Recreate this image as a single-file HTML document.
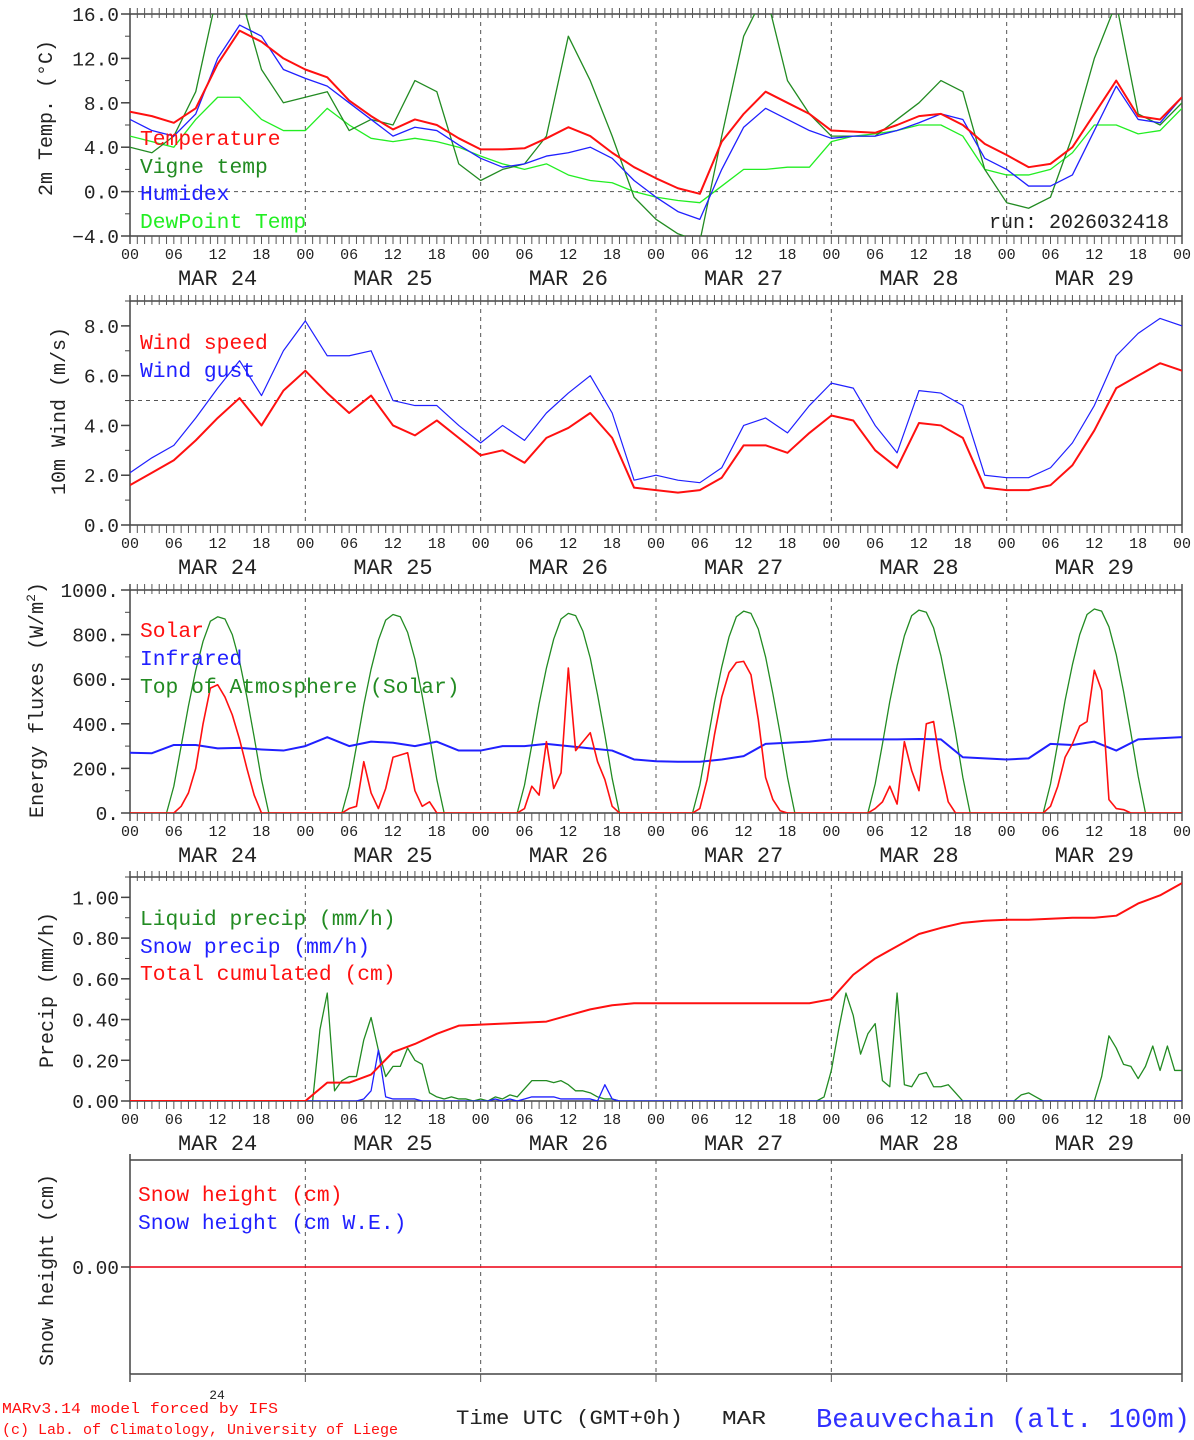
<!DOCTYPE html>
<html><head><meta charset="utf-8"><style>
body{margin:0;background:#fff;}
svg{display:block;font-family:"Liberation Mono",monospace;}
</style></head><body>
<svg id="c" width="1194" height="1440" viewBox="0 0 1194 1440" xmlns="http://www.w3.org/2000/svg"></svg>
<script>
// ---- data (3-hourly, t = 0..144 h) ----
const hours3 = [0,3,6,9,12,15,18,21,24,27,30,33,36,39,42,45,48,51,54,57,60,63,66,69,72,75,78,81,84,87,90,93,96,99,102,105,108,111,114,117,120,123,126,129,132,135,138,141,144];
const dayLabels = ["MAR 24","MAR 25","MAR 26","MAR 27","MAR 28","MAR 29"];
const hourTickLabels = ["00","06","12","18"];
const temperature = [7.2,6.8,6.2,7.5,11.5,14.5,13.5,12,11,10.3,8.2,6.8,5.6,6.5,6.0,4.8,3.8,3.8,3.9,4.8,5.8,5.0,3.5,2.2,1.2,0.3,-0.2,4.5,7.0,9.0,8.0,7.0,5.5,5.4,5.3,6.0,6.8,7.0,6.0,4.3,3.3,2.2,2.5,4.0,7.0,10.0,6.8,6.5,8.5];
const vigneTemp = [4.0,3.5,5.0,9.0,18,18,11,8,8.5,9,5.5,6.5,6,10,9,2.5,1.0,2.0,2.5,5,14,10,5,-0.5,-2.5,-3.8,-4.5,5,14,18,10,7,5,5,5,6.5,8,10,9,2,-1,-1.5,-0.5,5,12,17,7,6,8];
const humidex = [6.5,5.5,5,7,12,15,14,11,10.2,9.5,8,6.5,5.0,5.8,5.5,4.2,3.0,2.2,2.5,3.2,3.5,4.0,3.0,1.0,-0.5,-1.8,-2.5,2,5.8,7.5,6.5,5.5,4.8,5,5,5.5,6.2,7.0,6.5,3.0,2.0,0.5,0.5,1.5,5.5,9.5,6.5,6.2,8.5];
const dewPoint = [5,4.5,4.0,6.5,8.5,8.5,6.5,5.5,5.5,7.5,6,4.8,4.5,4.8,4.5,4.0,3.2,2.5,2.0,2.5,1.5,1.0,0.8,0,-0.5,-0.8,-1.0,0.5,2.0,2.0,2.2,2.2,4.5,5.0,5.2,5.5,6.0,6.0,5.0,2.0,1.5,1.5,2.0,3.5,6.0,6.0,5.2,5.5,7.5];
const windSpeed = [1.6,2.1,2.6,3.4,4.3,5.1,4.0,5.4,6.2,5.3,4.5,5.2,4.0,3.6,4.2,3.5,2.8,3.0,2.5,3.5,3.9,4.5,3.5,1.5,1.4,1.3,1.4,1.9,3.2,3.2,2.9,3.7,4.4,4.2,3.0,2.3,4.1,4.0,3.5,1.5,1.4,1.4,1.6,2.4,3.8,5.5,6.0,6.5,6.2];
const windGust = [2.1,2.7,3.2,4.3,5.5,6.6,5.2,7.0,8.2,6.8,6.8,7.0,5.0,4.8,4.8,4.0,3.3,4.0,3.4,4.5,5.3,6.0,4.5,1.8,2.0,1.8,1.7,2.3,4.0,4.3,3.7,4.8,5.7,5.5,4.0,2.9,5.4,5.3,4.8,2.0,1.9,1.9,2.3,3.3,4.8,6.8,7.7,8.3,8.0];
const infrared = [270,268,305,305,290,292,285,280,300,340,300,320,315,300,320,280,280,300,300,310,300,290,280,240,232,230,230,240,255,310,315,320,330,330,330,330,332,330,250,245,240,245,310,305,320,280,330,335,340];
const cumulated = [0,0,0,0,0,0,0,0,0,0.09,0.09,0.13,0.24,0.28,0.33,0.37,0.375,0.38,0.385,0.39,0.42,0.45,0.47,0.48,0.48,0.48,0.48,0.48,0.48,0.48,0.48,0.48,0.50,0.62,0.70,0.76,0.82,0.85,0.875,0.885,0.89,0.89,0.895,0.9,0.9,0.91,0.97,1.01,1.07];
const snowHeight = [0,0,0,0,0,0,0,0,0,0,0,0,0,0,0,0,0,0,0,0,0,0,0,0,0,0,0,0,0,0,0,0,0,0,0,0,0,0,0,0,0,0,0,0,0,0,0,0,0];
// ---- hourly data (t = 0..144) ----
const toaSolar = [
0,0,0,0,0,0,120,300,480,640,770,860,880,870,800,680,520,340,150,0,0,0,0,0,
0,0,0,0,0,0,120,300,485,645,775,865,890,880,810,690,525,345,150,0,0,0,0,0,
0,0,0,0,0,0,125,305,490,650,780,870,895,885,815,695,530,350,155,0,0,0,0,0,
0,0,0,0,0,0,125,310,495,655,790,880,905,895,825,700,535,355,160,0,0,0,0,0,
0,0,0,0,0,0,130,310,500,660,795,885,910,900,830,705,540,360,160,0,0,0,0,0,
0,0,0,0,0,0,130,315,505,665,800,890,915,905,835,710,545,360,165,0,0,0,0,0,0];
const solar = [
0,0,0,0,0,0,0,30,90,200,400,560,575,520,440,330,200,80,0,0,0,0,0,0,
0,0,0,0,0,0,20,30,230,90,20,110,250,260,270,100,30,50,0,0,0,0,0,0,
0,0,0,0,0,0,20,120,80,320,110,180,650,280,320,360,230,150,30,0,0,0,0,0,
0,0,0,0,0,0,20,150,350,520,630,675,680,620,420,160,60,10,0,0,0,0,0,0,
0,0,0,0,0,0,20,50,120,40,320,190,100,400,410,200,50,0,0,0,0,0,0,0,
0,0,0,0,0,0,30,120,250,310,390,410,640,550,60,20,15,0,0,0,0,0,0,0,0];
const liquidPrecip = [
0,0,0,0,0,0,0,0,0,0,0,0,0,0,0,0,0,0,0,0,0,0,0,0,
0,0,0.35,0.53,0.05,0.1,0.12,0.12,0.3,0.41,0.25,0.12,0.17,0.17,0.26,0.2,0.18,0.04,0.02,0.01,0.02,0.01,0.01,0,
0.01,0,0.02,0.01,0.03,0.02,0.06,0.1,0.1,0.1,0.09,0.1,0.08,0.05,0.05,0.04,0.02,0.01,0.01,0,0,0,0,0,
0,0,0,0,0,0,0,0,0,0,0,0,0,0,0,0,0,0,0,0,0,0,0,0.02,
0.15,0.35,0.53,0.42,0.23,0.33,0.38,0.1,0.07,0.53,0.08,0.07,0.13,0.14,0.07,0.07,0.08,0.04,0,0,0,0,0,0,
0,0,0.03,0.04,0.02,0,0,0,0,0,0,0,0,0.12,0.32,0.26,0.18,0.17,0.11,0.17,0.27,0.15,0.27,0.15,0.15];
const snowPrecip = [
0,0,0,0,0,0,0,0,0,0,0,0,0,0,0,0,0,0,0,0,0,0,0,0,
0,0,0,0,0,0,0,0,0.01,0.05,0.25,0.02,0.01,0.01,0.01,0.01,0,0,0,0,0,0,0,0,
0,0,0.01,0,0.01,0,0.01,0.02,0.02,0.02,0.02,0.01,0.01,0.01,0.01,0.01,0,0.08,0.01,0,0,0,0,0,
0,0,0,0,0,0,0,0,0,0,0,0,0,0,0,0,0,0,0,0,0,0,0,0,
0,0,0,0,0,0,0,0,0,0,0,0,0,0,0,0,0,0,0,0,0,0,0,0,
0,0,0,0,0,0,0,0,0,0,0,0,0,0,0,0,0,0,0,0,0,0,0,0,0];

const svg = document.getElementById('c');
const NS = 'http://www.w3.org/2000/svg';
function mk(tag, attrs, parent){const e=document.createElementNS(NS,tag);for(const k in attrs)e.setAttribute(k,attrs[k]);(parent||svg).appendChild(e);return e;}
const X0=130, X1=1182;
function xs(t){return X0+(X1-X0)*t/144;}

const panels = [
 {name:'temperature',top:14,bottom:236,min:-4,max:16,major:4,minor:2,fmt:v=>(v<0?'\u22124.0':v.toFixed(1)),ref:0},
 {name:'wind',top:301,bottom:525,min:0,max:9.0,major:2,minor:1,fmt:v=>v.toFixed(1),ref:5,lastMajor:8},
 {name:'energy',top:590,bottom:813,min:0,max:1000,major:200,minor:100,fmt:v=>v.toFixed(0)+'.'},
 {name:'precip',top:877,bottom:1101,min:0,max:1.1,major:0.2,minor:0.1,fmt:v=>v.toFixed(2),lastMajor:1.0},
 {name:'snow',top:1160,bottom:1374,min:-1,max:1,major:1,minor:null,fmt:v=>v.toFixed(2),only:[0]}
];
panels.forEach((p,pi)=>{
  p.y=v=>p.bottom-(p.bottom-p.top)*(v-p.min)/(p.max-p.min);
  const g=mk('g',{});
  
  
  const clipId='clip'+pi;
  const cp=mk('clipPath',{id:clipId},g);
  mk('rect',{x:X0,y:p.top,width:X1-X0,height:p.bottom-p.top},cp);
  mk('line',{x1:X0,y1:p.top,x2:X1,y2:p.top,stroke:'#444','stroke-width':1.5},g);
  mk('line',{x1:X0,y1:p.bottom,x2:X1,y2:p.bottom,stroke:'#444','stroke-width':1.5},g);
  mk('line',{x1:X0,y1:p.top-6,x2:X0,y2:p.bottom+8,stroke:'#444','stroke-width':1.5},g);
  mk('line',{x1:X1,y1:p.top-6,x2:X1,y2:p.bottom+8,stroke:'#444','stroke-width':1.5},g);
  if(pi<4){
    for(let h=0;h<=144;h++){
      const x=xs(h);
      mk('line',{x1:x,y1:p.top-6,x2:x,y2:p.top+(h%24==0?0:4),stroke:'#555','stroke-width':1},g);
      mk('line',{x1:x,y1:p.bottom,x2:x,y2:p.bottom+8,stroke:'#555','stroke-width':1},g);
    }
  } else {
    for(let d=0;d<=6;d++){const x=xs(d*24);mk('line',{x1:x,y1:p.bottom,x2:x,y2:p.bottom+8,stroke:'#555','stroke-width':1},g);}
  }
  for(let d=1;d<6;d++){const x=xs(d*24);mk('line',{x1:x,y1:p.top,x2:x,y2:p.bottom,stroke:'#555','stroke-width':1,'stroke-dasharray':'4,4'},g);}
  if(p.ref!==undefined){mk('line',{x1:X0,y1:p.y(p.ref),x2:X1,y2:p.y(p.ref),stroke:'#555','stroke-width':1,'stroke-dasharray':'4,4'},g);}
  const majors=p.only||(()=>{const a=[];const top=p.lastMajor!==undefined?p.lastMajor:p.max;for(let v=p.min;v<=top+1e-9;v+=p.major)a.push(+v.toFixed(4));return a;})();
  majors.forEach(v=>{
    const y=p.y(v);
    mk('line',{x1:X0-9,y1:y,x2:X0,y2:y,stroke:'#444','stroke-width':1.5},g);
    const t=mk('text',{x:X0-11,y:y+7,'text-anchor':'end','font-size':19.5,fill:'#222'},g);
    t.textContent=p.fmt(v);
    
    
  });
  if(p.minor){for(let v=p.min;v<=p.max+1e-9;v+=p.minor){const y=p.y(v);mk('line',{x1:X0-5,y1:y,x2:X0,y2:y,stroke:'#444','stroke-width':1},g);}}
  if(pi<4){
    for(let d=0;d<=6;d++){for(let k=0;k<4;k++){const h=d*24+k*6;if(h>144)break;
      const t=mk('text',{x:xs(h),y:p.bottom+23,'text-anchor':'middle','font-size':15,fill:'#222'},g);
      t.textContent=hourTickLabels[k];
      
      }}
    dayLabels.forEach((lab,d)=>{const t=mk('text',{x:xs(d*24+12),y:p.bottom+49,'text-anchor':'middle','font-size':22,fill:'#222'},g);t.textContent=lab;
      
      });
  }
  p.g=mk('g',{'clip-path':'url(#'+clipId+')'},g);
});
function series(p,times,vals,color,w,name){
  const d=vals.map((v,i)=>(i?'L':'M')+xs(times[i]).toFixed(2)+' '+p.y(v).toFixed(2)).join(' ');
  const e=mk('path',{d:d,fill:'none',stroke:color,'stroke-width':w,'stroke-linejoin':'round'},p.g);
  
  
}
const hours1=[];for(let h=0;h<=144;h++)hours1.push(h);
const [P1,P2,P3,P4,P5]=panels;
series(P1,hours3,dewPoint,'#22ee22',1.3,'dewpoint-line');
series(P1,hours3,vigneTemp,'#228b22',1.3,'vigne-temp-line');
series(P1,hours3,humidex,'#2020ff',1.3,'humidex-line');
series(P1,hours3,temperature,'#ff1010',2,'temperature-line');
series(P2,hours3,windGust,'#2020ff',1.2,'wind-gust-line');
series(P2,hours3,windSpeed,'#ff1010',2,'wind-speed-line');
series(P3,hours1,toaSolar,'#228b22',1.3,'toa-solar-line');
series(P3,hours3,infrared,'#2020ff',2,'infrared-line');
series(P3,hours1,solar,'#ff1010',1.6,'solar-line');
series(P4,hours1,liquidPrecip,'#228b22',1.3,'liquid-precip-line');
series(P4,hours1,snowPrecip,'#2020ff',1.3,'snow-precip-line');
series(P4,hours3,cumulated,'#ff1010',2,'cumulated-precip-line');
series(P5,hours3,snowHeight,'#2020ff',1.3,'snow-height-we-line');
series(P5,hours3,snowHeight,'#ff1010',1.5,'snow-height-line');

function txt(x,y,s,size,color,name,extra){const t=mk('text',Object.assign({x:x,y:y,'font-size':size,fill:color},extra||{}));t.textContent=s;
  
  return t;}
const LF=21.3;
txt(140,145,'Temperature',LF,'#ff1010','legend-temperature');
txt(140,173,'Vigne temp',LF,'#228b22','legend-vigne-temp');
txt(140,200,'Humidex',LF,'#2020ff','legend-humidex');
txt(140,228,'DewPoint Temp',LF,'#22ee22','legend-dewpoint');
txt(1169,228,'run: 2026032418',20,'#222','run-label',{'text-anchor':'end'});
txt(140,349,'Wind speed',LF,'#ff1010','legend-wind-speed');
txt(140,377,'Wind gust',LF,'#2020ff','legend-wind-gust');
txt(140,637,'Solar',LF,'#ff1010','legend-solar');
txt(140,665,'Infrared',LF,'#2020ff','legend-infrared');
txt(140,693,'Top of Atmosphere (Solar)',LF,'#228b22','legend-toa');
txt(140,925,'Liquid precip (mm/h)',LF,'#228b22','legend-liquid-precip');
txt(140,953,'Snow precip (mm/h)',LF,'#2020ff','legend-snow-precip');
txt(140,980,'Total cumulated (cm)',LF,'#ff1010','legend-cumulated');
txt(138,1201,'Snow height (cm)',LF,'#ff1010','legend-snow-height');
txt(138,1229,'Snow height (cm W.E.)',LF,'#2020ff','legend-snow-height-we');
txt(0,0,'2m Temp. (\u00B0C)',20,'#222','y-axis-title-temp',{transform:'translate(52,118) rotate(-90)','text-anchor':'middle'});
txt(0,0,'10m Wind (m/s)',20,'#222','y-axis-title-wind',{transform:'translate(65,411) rotate(-90)','text-anchor':'middle'});
const et=txt(0,0,'Energy fluxes (W/m',20,'#222','y-axis-title-energy',{transform:'translate(43,700) rotate(-90)','text-anchor':'middle'});
const sup=mk('tspan',{dy:-8,'font-size':13},et);sup.textContent='2';
const cl=mk('tspan',{dy:8},et);cl.textContent=')';
txt(0,0,'Precip (mm/h)',20,'#222','y-axis-title-precip',{transform:'translate(53,990) rotate(-90)','text-anchor':'middle'});
txt(0,0,'Snow height (cm)',20,'#222','y-axis-title-snow',{transform:'translate(53,1270) rotate(-90)','text-anchor':'middle'});
txt(217,1399,'24',13,'#222','footer-day-number',{'text-anchor':'middle'});
txt(2,1413,'MARv3.14 model forced by IFS',15,'#ff1010','credit-model',{textLength:276,lengthAdjust:'spacingAndGlyphs'});
txt(2,1434,'(c) Lab. of Climatology, University of Liege',15,'#ff1010','credit-lab',{textLength:396,lengthAdjust:'spacingAndGlyphs'});
txt(456,1424,'Time UTC (GMT+0h)',20,'#222','x-axis-title',{textLength:227,lengthAdjust:'spacingAndGlyphs'});
txt(722,1424,'MAR',19,'#222','x-axis-month',{textLength:44,lengthAdjust:'spacingAndGlyphs'});
txt(816,1427,'Beauvechain (alt. 100m)',27,'#3030ff','station-title',{textLength:374,lengthAdjust:'spacingAndGlyphs'});
</script>
</body></html>
